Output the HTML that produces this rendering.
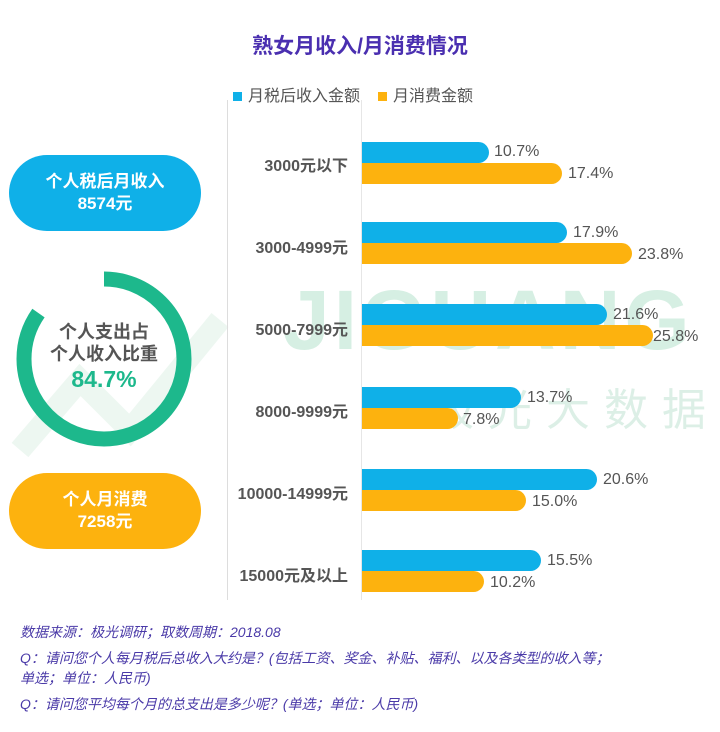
<!DOCTYPE html>
<html><head><meta charset="utf-8"><style>
body{margin:0;width:720px;height:732px;background:#fff;position:relative;overflow:hidden;font-family:"Liberation Sans","Noto Sans CJK SC",sans-serif}
.a{position:absolute}
.bar{position:absolute;left:362px;height:21px;border-radius:0 11px 11px 0}
.b{background:#0fb0e8}.o{background:#fdb20e}
.v{position:absolute;font-size:16px;color:#555}
.lab{position:absolute;right:372px;width:200px;text-align:right;font-size:16px;font-weight:bold;color:#555}
.pill{position:absolute;left:9px;width:192px;height:76px;border-radius:38px;color:#fff;font-weight:bold;font-size:17px;text-align:center;line-height:22px;display:flex;flex-direction:column;justify-content:center}
.note{position:absolute;left:20px;font-size:14px;color:#4a3aa8;font-style:italic}
</style></head><body>
<div class="a" style="left:0;top:30px;width:720px;text-align:center;font-size:21px;font-weight:bold;color:#4a2fb0">熟女月收入/月消费情况</div>
<div class="a" style="left:233px;top:82px;font-size:16px;color:#555"><span style="display:inline-block;width:9px;height:9px;background:#0fb0e8;margin-right:6px"></span>月税后收入金额<span style="display:inline-block;width:9px;height:9px;background:#fdb20e;margin:0 6px 0 18px"></span>月消费金额</div>
<!-- watermark -->
<div class="a" style="left:283px;top:272px;font-size:84px;font-weight:bold;color:#d6efe3;letter-spacing:4px">JIGUANG</div>
<div class="a" style="left:430px;top:374px;font-size:44px;color:#dcefe6;letter-spacing:14px">极光大数据</div>
<svg class="a" style="left:10px;top:260px" width="230" height="200"><path d="M10 190 L70 120 L120 170 L210 60" stroke="#edf7f1" stroke-width="22" fill="none"/></svg>
<div class="a" style="left:227px;top:100px;width:1px;height:500px;background:#ddd"></div>
<div class="a" style="left:361px;top:100px;width:1px;height:500px;background:#e6e6e6"></div>
<div class="pill" style="top:155px;background:#0fb0e8">个人税后月收入<span>8574元</span></div>
<div class="pill" style="top:473px;background:#fdb20e">个人月消费<span>7258元</span></div>
<svg class="a" style="left:9px;top:267px" width="200" height="200"><circle cx="95" cy="92" r="80" fill="none" stroke="#1db88c" stroke-width="15" stroke-dasharray="425.7 500" transform="rotate(-90 95 92)"/></svg>
<div class="a" style="left:29px;top:321px;width:150px;text-align:center;font-size:18px;font-weight:bold;color:#555;line-height:22px">个人支出占<br>个人收入比重<br><span style="color:#1db88c;font-size:23px;line-height:28px">84.7%</span></div>
<div class="lab" style="top:152px">3000元以下</div>
<div class="lab" style="top:234px">3000-4999元</div>
<div class="lab" style="top:316px">5000-7999元</div>
<div class="lab" style="top:398px">8000-9999元</div>
<div class="lab" style="top:480px">10000-14999元</div>
<div class="lab" style="top:562px">15000元及以上</div>
<div class="bar b" style="top:142px;width:127px"></div><div class="v" style="left:494px;top:143px">10.7%</div>
<div class="bar o" style="top:163px;width:200px"></div><div class="v" style="left:568px;top:165px">17.4%</div>
<div class="bar b" style="top:222px;width:205px"></div><div class="v" style="left:573px;top:224px">17.9%</div>
<div class="bar o" style="top:243px;width:270px"></div><div class="v" style="left:638px;top:246px">23.8%</div>
<div class="bar b" style="top:304px;width:245px"></div><div class="v" style="left:613px;top:306px">21.6%</div>
<div class="bar o" style="top:325px;width:291px"></div><div class="v" style="left:653px;top:328px">25.8%</div>
<div class="bar b" style="top:387px;width:159px"></div><div class="v" style="left:527px;top:389px">13.7%</div>
<div class="bar o" style="top:408px;width:96px"></div><div class="v" style="left:463px;top:411px">7.8%</div>
<div class="bar b" style="top:469px;width:235px"></div><div class="v" style="left:603px;top:471px">20.6%</div>
<div class="bar o" style="top:490px;width:164px"></div><div class="v" style="left:532px;top:493px">15.0%</div>
<div class="bar b" style="top:550px;width:179px"></div><div class="v" style="left:547px;top:552px">15.5%</div>
<div class="bar o" style="top:571px;width:122px"></div><div class="v" style="left:490px;top:574px">10.2%</div>
<div class="note" style="top:622px">数据来源：极光调研；取数周期：2018.08</div>
<div class="note" style="top:648px;line-height:20px">Q：请问您个人每月税后总收入大约是？(包括工资、奖金、补贴、福利、以及各类型的收入等；<br>单选；单位：人民币)</div>
<div class="note" style="top:694px">Q：请问您平均每个月的总支出是多少呢？(单选；单位：人民币)</div>
</body></html>
